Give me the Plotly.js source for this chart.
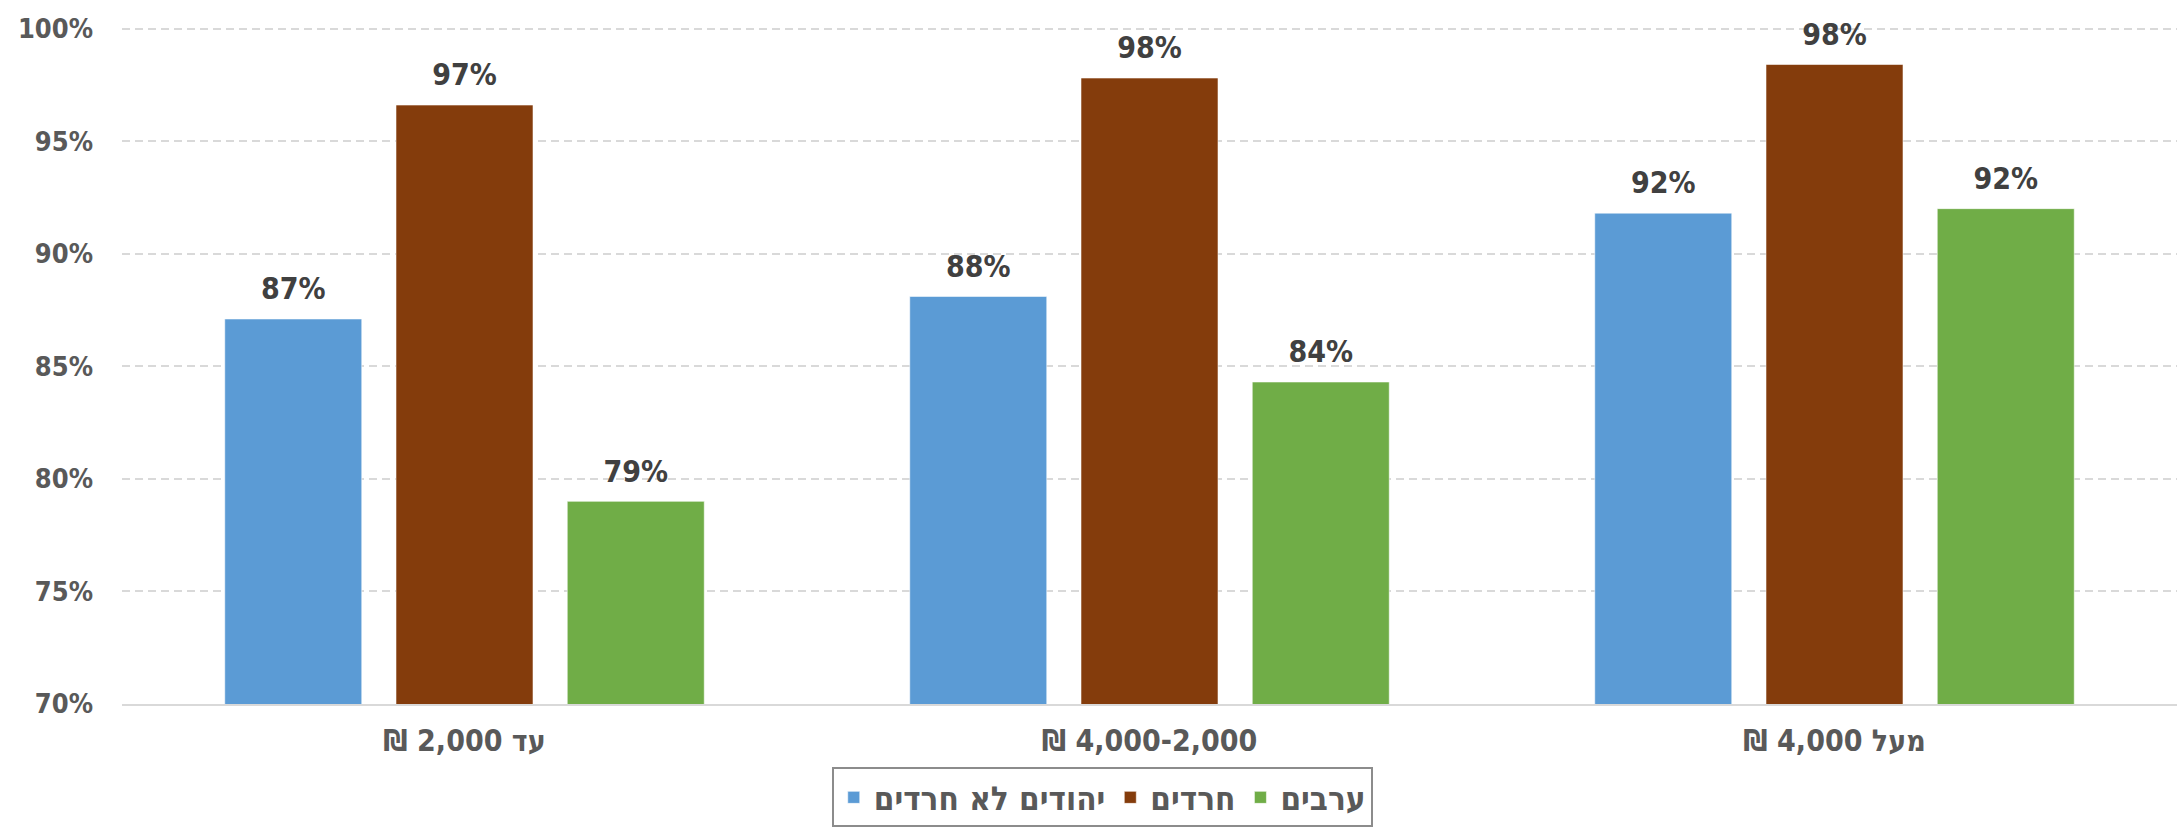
<!DOCTYPE html>
<html>
<head>
<meta charset="utf-8">
<script src="https://cdn.plot.ly/plotly-3.0.1.min.js"></script>
<style>
html, body { margin: 0; padding: 0; background: #ffffff; }
#chart { width: 2178px; height: 829px; }
</style>
</head>
<body>
<div id="chart"></div>
<script>
// ---- data ----
const categories = ['\u202Bעד 2,000 ₪\u202C', '\u202B4,000-2,000 ₪\u202C', '\u202Bמעל 4,000 ₪\u202C'];
const seriesNames = ['יהודים לא חרדים', 'חרדים', 'ערבים'];
const nonHarediJews = [87.1, 88.1, 91.8];
const haredim = [96.6, 97.8, 98.4];
const arabs = [79.0, 84.3, 92.0];
const yTickValues = [70, 75, 80, 85, 90, 95, 100];

// ---- style ----
const colors = ['#5B9BD5', '#843C0C', '#70AD47'];
const FONT = '"DejaVu Sans Condensed", "DejaVu Sans", sans-serif';
const series = [nonHarediJews, haredim, arabs];

const traces = [];
series.forEach((vals, i) => {
  traces.push({
    type: 'bar',
    name: seriesNames[i],
    x: categories,
    y: vals,
    marker: { color: colors[i], line: { color: 'rgba(255,255,255,0.55)', width: 1 } },
    hoverinfo: 'skip'
  });
});
series.forEach((vals, i) => {
  traces.push({
    type: 'scatter',
    mode: 'markers+text',
    x: categories,
    y: vals,
    text: vals.map(v => Math.round(v) + '%'),
    textposition: 'top center',
    textfont: { family: FONT, size: 30, color: '#404040', weight: 'bold' },
    marker: { size: 18, opacity: 0, color: colors[i] },
    showlegend: false,
    hoverinfo: 'skip',
    cliponaxis: false
  });
});

const layout = {
  width: 2178,
  height: 829,
  margin: { l: 122, r: 1, t: 23.5, b: 125, pad: 0, autoexpand: false },
  paper_bgcolor: '#ffffff',
  plot_bgcolor: '#ffffff',
  font: { family: FONT, color: '#595959', weight: 'bold' },
  barmode: 'group',
  bargap: 0.25,
  bargroupgap: 0.2,
  scattermode: 'group',
  scattergap: 0.25,
  showlegend: true,
  legend: {
    orientation: 'h',
    x: 0.477,
    xanchor: 'center',
    y: -0.1815,
    yanchor: 'bottom',
    bordercolor: '#8c8c8c',
    borderwidth: 2,
    font: { family: FONT, size: 33, color: '#595959', weight: 'bold' },
    itemclick: false,
    itemdoubleclick: false
  },
  xaxis: {
    type: 'category',
    showgrid: false,
    showline: true,
    linecolor: '#d9d9d9',
    linewidth: 2,
    ticks: '',
    tickfont: { family: FONT, size: 30, color: '#595959', weight: 'bold' },
    ticklabelstandoff: 9,
    fixedrange: true
  },
  yaxis: {
    range: [70, 100.2],
    tickvals: yTickValues,
    ticktext: yTickValues.map(v => v + '%'),
    showgrid: true,
    gridcolor: '#d9d9d9',
    gridwidth: 2,
    griddash: '8px,5px',
    zeroline: false,
    showline: false,
    ticks: '',
    tickfont: { family: FONT, size: 27, color: '#595959', weight: 'bold' },
    ticklabelstandoff: 28,
    fixedrange: true
  }
};

Plotly.newPlot('chart', traces, layout, { displayModeBar: false, staticPlot: true });
</script>
</body>
</html>
